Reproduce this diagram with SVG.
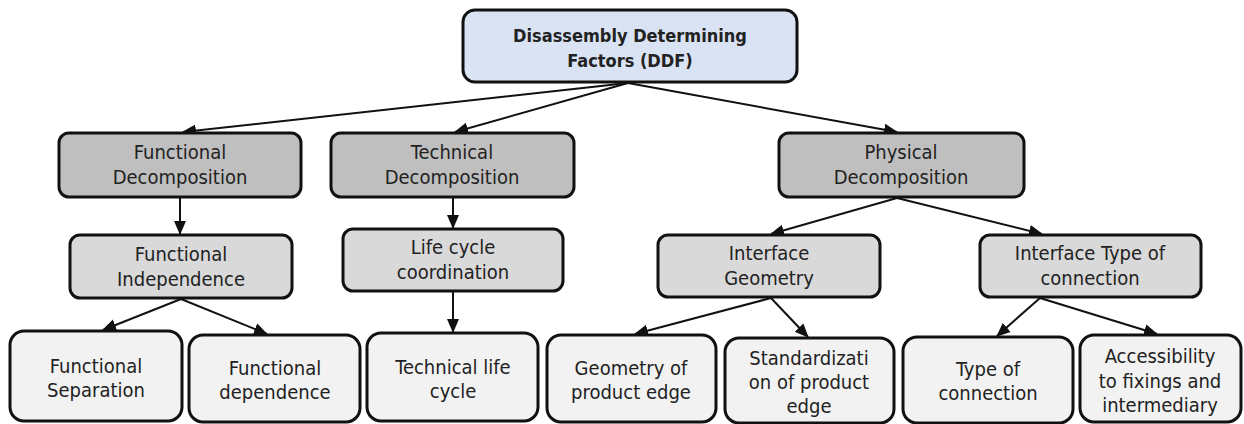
<svg xmlns="http://www.w3.org/2000/svg" width="1244" height="424" viewBox="0 0 1244 424">
  <defs>
    <marker id="arrow" markerUnits="userSpaceOnUse" markerWidth="14" markerHeight="14" viewBox="0 0 14 14" refX="13" refY="7" orient="auto">
      <path d="M0,1 L14,7 L0,13 Z" fill="#111"/>
    </marker>
    <style>
      .box { stroke: #111; stroke-width: 3; }
      .root { fill: #dae3f3; }
      .l1 { fill: #bfbfbf; }
      .l2 { fill: #d9d9d9; }
      .l3 { fill: #f2f2f2; }
      text { font-family: "DejaVu Sans Condensed", "DejaVu Sans", sans-serif; font-stretch: condensed; font-size: 20px; fill: #222; text-anchor: middle; }
      .bold { font-weight: bold; font-size: 18px; }
      .edge { stroke: #111; stroke-width: 2; fill: none; marker-end: url(#arrow); }
    </style>
  </defs>
  <rect width="1244" height="424" fill="#ffffff"/>

  <!-- connectors -->
  <g id="connectors">
    <line class="edge" x1="628" y1="83" x2="183" y2="132"/>
    <line class="edge" x1="628" y1="83" x2="455" y2="132"/>
    <line class="edge" x1="628" y1="83" x2="897" y2="132"/>
    <line class="edge" x1="180" y1="198" x2="180" y2="234"/>
    <line class="edge" x1="453" y1="198" x2="453" y2="228"/>
    <line class="edge" x1="453" y1="292" x2="453" y2="332"/>
    <line class="edge" x1="897" y1="198" x2="771" y2="234"/>
    <line class="edge" x1="897" y1="198" x2="1042" y2="234"/>
    <line class="edge" x1="181" y1="299" x2="103" y2="330"/>
    <line class="edge" x1="181" y1="299" x2="267" y2="334"/>
    <line class="edge" x1="771" y1="298" x2="635" y2="334"/>
    <line class="edge" x1="771" y1="298" x2="808" y2="337"/>
    <line class="edge" x1="1040" y1="298" x2="997" y2="336"/>
    <line class="edge" x1="1040" y1="298" x2="1157" y2="334"/>
  </g>

  <!-- level 0 -->
  <g id="ddf">
    <rect class="box root" x="463" y="10" width="334" height="72" rx="12"/>
    <text class="bold" x="630" y="42">Disassembly Determining</text>
    <text class="bold" x="630" y="67">Factors (DDF)</text>
  </g>

  <!-- level 1 -->
  <g id="functional-decomposition">
    <rect class="box l1" x="59" y="133" width="242" height="64" rx="10"/>
    <text x="180" y="159">Functional</text>
    <text x="180" y="184">Decomposition</text>
  </g>
  <g id="technical-decomposition">
    <rect class="box l1" x="331" y="133" width="243" height="64" rx="10"/>
    <text x="452" y="159">Technical</text>
    <text x="452" y="184">Decomposition</text>
  </g>
  <g id="physical-decomposition">
    <rect class="box l1" x="779" y="133" width="245" height="64" rx="10"/>
    <text x="901" y="159">Physical</text>
    <text x="901" y="184">Decomposition</text>
  </g>

  <!-- level 2 -->
  <g id="functional-independence">
    <rect class="box l2" x="70" y="235" width="222" height="63" rx="10"/>
    <text x="181" y="261">Functional</text>
    <text x="181" y="286">Independence</text>
  </g>
  <g id="life-cycle-coordination">
    <rect class="box l2" x="343" y="229" width="220" height="62" rx="10"/>
    <text x="453" y="254">Life cycle</text>
    <text x="453" y="279">coordination</text>
  </g>
  <g id="interface-geometry">
    <rect class="box l2" x="658" y="235" width="222" height="62" rx="10"/>
    <text x="769" y="260">Interface</text>
    <text x="769" y="285">Geometry</text>
  </g>
  <g id="interface-type-of-connection">
    <rect class="box l2" x="980" y="235" width="221" height="62" rx="10"/>
    <text x="1090" y="260">Interface Type of</text>
    <text x="1090" y="285">connection</text>
  </g>

  <!-- level 3 -->
  <g id="functional-separation">
    <rect class="box l3" x="10" y="331" width="172" height="90" rx="14"/>
    <text x="96" y="373">Functional</text>
    <text x="96" y="397">Separation</text>
  </g>
  <g id="functional-dependence">
    <rect class="box l3" x="189" y="335" width="171" height="87" rx="14"/>
    <text x="275" y="375">Functional</text>
    <text x="275" y="399">dependence</text>
  </g>
  <g id="technical-life-cycle">
    <rect class="box l3" x="367" y="333" width="171" height="88" rx="14"/>
    <text x="453" y="374">Technical life</text>
    <text x="453" y="398">cycle</text>
  </g>
  <g id="geometry-of-product-edge">
    <rect class="box l3" x="547" y="335" width="169" height="87" rx="14"/>
    <text x="631" y="375">Geometry of</text>
    <text x="631" y="399">product edge</text>
  </g>
  <g id="standardization-of-product-edge">
    <rect class="box l3" x="725" y="338" width="169" height="85" rx="14"/>
    <text x="809" y="365">Standardizati</text>
    <text x="809" y="389">on of product</text>
    <text x="809" y="413">edge</text>
  </g>
  <g id="type-of-connection">
    <rect class="box l3" x="903" y="337" width="170" height="86" rx="14"/>
    <text x="988" y="376">Type of</text>
    <text x="988" y="400">connection</text>
  </g>
  <g id="accessibility">
    <rect class="box l3" x="1080" y="335" width="161" height="87" rx="14"/>
    <text x="1160" y="363">Accessibility</text>
    <text x="1160" y="388">to fixings and</text>
    <text x="1160" y="412">intermediary</text>
  </g>
</svg>
